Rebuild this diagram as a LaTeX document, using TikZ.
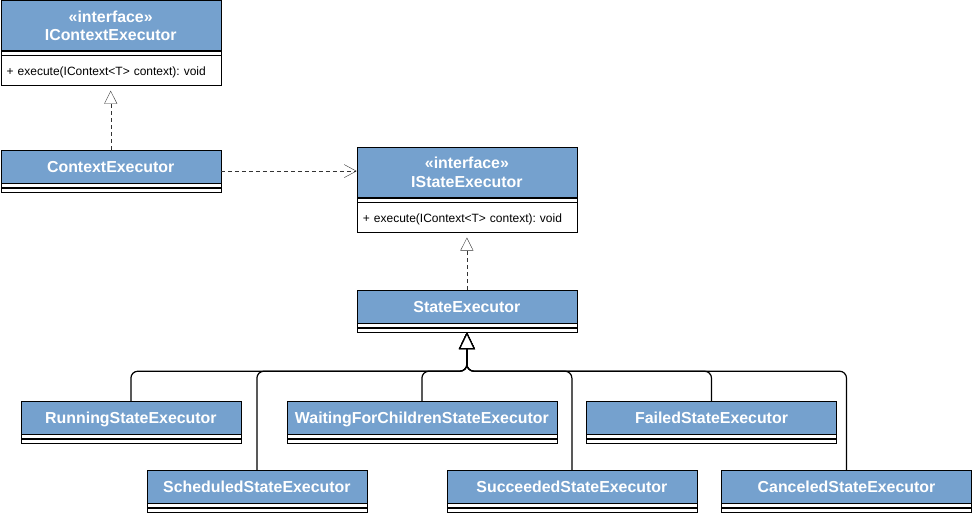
\documentclass[tikz,border=0pt]{standalone}
\usepackage{fontspec}
\setmainfont{Liberation Sans}
\usetikzlibrary{arrows.meta, calc}
\definecolor{umlblue}{RGB}{117,161,206}
\newcommand{\hdfont}{\fontsize{15.9}{18.5}\selectfont\bfseries}
\newcommand{\mtfont}{\fontsize{12}{14}\selectfont\frenchspacing}
\tikzstyle{header} = [rectangle,
anchor=north west,
minimum height=33pt,
inner sep=0pt,
text height=13.2pt,
text depth=1.8pt,
align=center,
draw=black,
fill=umlblue,
text=white,
font=\hdfont]
\tikzstyle{iheader} = [header, minimum height=50pt, text height=, text depth=]
\tikzstyle{strip} = [rectangle,
anchor=north west,
minimum height=4pt,
inner sep=0pt,
draw=black,
fill=white]
\tikzstyle{methods} = [rectangle,
anchor=north west,
inner xsep=6pt,
inner ysep=4pt,
text height=16pt,
text depth=6pt,
align=left,
draw=black,
fill=white,
font=\mtfont]
\tikzstyle{realize} = [black!80, dash pattern=on 4pt off 3pt, shorten >=5pt, -{Triangle[length=13pt, width=13pt, fill=white]}]
\tikzstyle{depend} = [black!80, dash pattern=on 4pt off 3pt, -{Straight Barb[length=12pt, width=13pt]}]
\tikzstyle{inherit} = [line width=1.2pt, rounded corners=7pt, -{Triangle[length=17pt, width=16pt, fill=white]}]

\begin{document}
\begin{tikzpicture}[x=1pt, y=-1pt]
  \useasboundingbox (0,0) rectangle (973,513);

  % interfaces
  \node (icx) [iheader, minimum width=220pt] at (0.5,0.5) {«interface»\\IContextExecutor};
  \node (icxa) [strip, minimum width=220pt] at (icx.south west) {};
  \node (icxm) [methods, text width=208pt] at (icxa.south west) {+ execute(IContext<T> context): void};

  \node (ist) [iheader, minimum width=220pt] at (356.7,147.3) {«interface»\\IStateExecutor};
  \node (ista) [strip, minimum width=220pt] at (ist.south west) {};
  \node (istm) [methods, text width=208pt] at (ista.south west) {+ execute(IContext<T> context): void};

  % classes
  \node (ctx) [header, minimum width=220pt] at (0.5,150) {ContextExecutor};
  \node (ctxa) [strip, minimum width=220pt] at (ctx.south west) {};
  \node (ctxb) [strip, minimum width=220pt] at (ctxa.south west) {};

  \node (se) [header, minimum width=220pt] at (356.7,290) {StateExecutor};
  \node (sea) [strip, minimum width=220pt] at (se.south west) {};
  \node (seb) [strip, minimum width=220pt] at (sea.south west) {};

  % states, upper row
  \node (run) [header, minimum width=220pt] at (20.7,401) {RunningStateExecutor};
  \node (runa) [strip, minimum width=220pt] at (run.south west) {};
  \node (runb) [strip, minimum width=220pt] at (runa.south west) {};

  \node (wait) [header, minimum width=270pt] at (286.7,401) {WaitingForChildrenStateExecutor};
  \node (waita) [strip, minimum width=270pt] at (wait.south west) {};
  \node (waitb) [strip, minimum width=270pt] at (waita.south west) {};

  \node (fail) [header, minimum width=250pt] at (586.3,401) {FailedStateExecutor};
  \node (faila) [strip, minimum width=250pt] at (fail.south west) {};
  \node (failb) [strip, minimum width=250pt] at (faila.south west) {};

  % states, lower row
  \node (sched) [header, minimum width=220pt] at (146.7,470) {ScheduledStateExecutor};
  \node (scheda) [strip, minimum width=220pt] at (sched.south west) {};
  \node (schedb) [strip, minimum width=220pt] at (scheda.south west) {};

  \node (succ) [header, minimum width=250pt] at (446.7,470) {SucceededStateExecutor};
  \node (succa) [strip, minimum width=250pt] at (succ.south west) {};
  \node (succb) [strip, minimum width=250pt] at (succa.south west) {};

  \node (canc) [header, minimum width=250pt] at (721.3,470) {CanceledStateExecutor};
  \node (canca) [strip, minimum width=250pt] at (canc.south west) {};
  \node (cancb) [strip, minimum width=250pt] at (canca.south west) {};

  \coordinate (ctxr) at ($(ctx.north east)!0.5!(ctxb.south east)$);
  \coordinate (split) at ($(seb.south)+(0,39)$);

  \draw [realize] (ctx.north) -- (icxm.south);
  \draw [realize] (se.north) -- (istm.south);
  \draw [depend] (ctxr) -- (ctxr -| ist.west);

  \draw [inherit] (run.north) |- (split) -- (seb.south);
  \draw [inherit] (sched.north) |- (split) -- (seb.south);
  \draw [inherit] (wait.north) |- (split) -- (seb.south);
  \draw [inherit] (succ.north) |- (split) -- (seb.south);
  \draw [inherit] (fail.north) |- (split) -- (seb.south);
  \draw [inherit] (canc.north) |- (split) -- (seb.south);
\end{tikzpicture}
\end{document}
